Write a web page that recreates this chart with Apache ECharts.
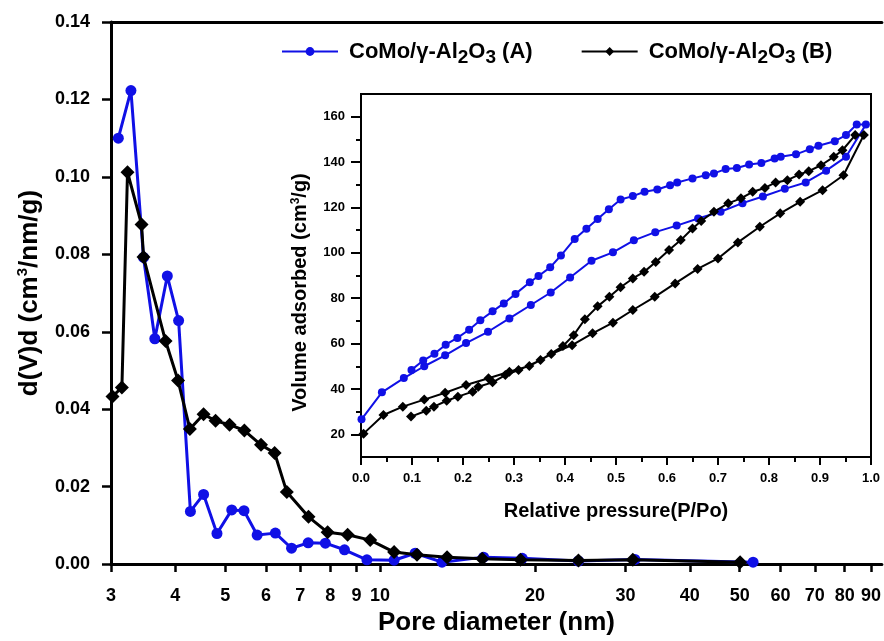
<!DOCTYPE html>
<html><head><meta charset="utf-8">
<script src="https://cdn.jsdelivr.net/npm/echarts@6/dist/echarts.min.js"></script>
<style>html,body{margin:0;padding:0;background:#fff}#c{width:884px;height:641px}</style>
</head><body><div id="c"></div>
<script>
// ---- Main plot: pore size distribution ----
const poreA = [3.10, 3.28, 3.47, 3.65, 3.86, 4.06, 4.28, 4.54, 4.82, 5.15, 5.44, 5.77, 6.26, 6.73, 7.25, 7.83, 8.53, 9.43, 10.65, 11.7, 13.2, 15.9, 18.9, 24.3, 31.3, 53.1];
const dvA   = [0.110, 0.1223, 0.0792, 0.0582, 0.0744, 0.0629, 0.0136, 0.018, 0.0079, 0.014, 0.0138, 0.0075, 0.008, 0.0041, 0.0055, 0.0054, 0.0037, 0.0011, 0.001, 0.0028, 0.0005, 0.0018, 0.0015, 0.0008, 0.0012, 0.0005];
const poreB = [3.02, 3.15, 3.23, 3.44, 3.47, 3.83, 4.05, 4.27, 4.54, 4.79, 5.10, 5.45, 5.87, 6.24, 6.59, 7.26, 7.91, 8.65, 9.57, 10.65, 11.8, 13.5, 15.8, 18.75, 24.3, 31.0, 50.1];
const dvB   = [0.0433, 0.0456, 0.1012, 0.0877, 0.0793, 0.0576, 0.0474, 0.0349, 0.0387, 0.037, 0.036, 0.0345, 0.0308, 0.0287, 0.0186, 0.0122, 0.0082, 0.0076, 0.0062, 0.0031, 0.0024, 0.0018, 0.0014, 0.0011, 0.0009, 0.0011, 0.0005];
const poreTicks = [3, 4, 5, 6, 7, 8, 9, 10, 20, 30, 40, 50, 60, 70, 80, 90];

// ---- Inset: N2 isotherms (adsorption then desorption) ----
const adsAp = [0.001, 0.041, 0.084, 0.124, 0.165, 0.206, 0.249, 0.291, 0.333, 0.372, 0.41, 0.452, 0.494, 0.535, 0.577, 0.619, 0.661, 0.705, 0.748, 0.788, 0.831, 0.872, 0.912, 0.951, 0.99];
const adsAv = [26.6, 38.5, 44.8, 50.0, 54.8, 60.2, 65.2, 71.1, 77.0, 82.5, 89.1, 96.5, 100.2, 105.5, 109.1, 112.0, 115.1, 118.1, 121.9, 124.8, 128.2, 131.0, 136.2, 142.3, 156.6];
const desAp = [0.972, 0.951, 0.929, 0.897, 0.88, 0.853, 0.823, 0.811, 0.785, 0.761, 0.737, 0.715, 0.692, 0.676, 0.65, 0.62, 0.606, 0.581, 0.556, 0.533, 0.509, 0.486, 0.464, 0.442, 0.419, 0.392, 0.371, 0.348, 0.331, 0.303, 0.28, 0.258, 0.234, 0.212, 0.189, 0.166, 0.144, 0.122, 0.099];
const desAv = [156.6, 151.9, 149.2, 147.2, 145.7, 143.4, 142.3, 141.6, 139.6, 138.9, 137.4, 136.9, 135.0, 134.2, 132.8, 131.0, 129.8, 127.9, 126.9, 125.0, 123.5, 119.2, 114.9, 110.6, 106.1, 98.8, 93.6, 89.8, 87.0, 81.9, 77.7, 74.2, 70.3, 66.1, 62.5, 59.5, 55.5, 52.5, 48.4];
const adsBp = [0.005, 0.044, 0.082, 0.124, 0.165, 0.206, 0.25, 0.291, 0.33, 0.373, 0.414, 0.454, 0.494, 0.533, 0.576, 0.616, 0.66, 0.7, 0.739, 0.782, 0.822, 0.861, 0.905, 0.946, 0.986];
const adsBv = [20.3, 28.5, 32.2, 35.3, 38.3, 41.7, 44.7, 47.6, 50.1, 55.4, 59.3, 64.5, 69.2, 74.8, 80.6, 86.5, 92.9, 97.5, 104.6, 111.5, 117.4, 122.5, 127.6, 134.2, 151.9];
const desBp = [0.969, 0.944, 0.927, 0.902, 0.878, 0.859, 0.836, 0.813, 0.792, 0.768, 0.745, 0.72, 0.692, 0.667, 0.65, 0.627, 0.604, 0.578, 0.555, 0.533, 0.509, 0.487, 0.464, 0.439, 0.417, 0.396, 0.352, 0.309, 0.283, 0.258, 0.23, 0.219, 0.19, 0.168, 0.143, 0.128, 0.098];
const desBv = [151.9, 145.2, 142.3, 138.6, 136.0, 134.5, 132.0, 131.0, 128.6, 126.9, 124.0, 121.8, 118.1, 114.0, 110.7, 105.6, 101.2, 96.0, 91.6, 88.7, 84.8, 80.6, 76.4, 70.7, 63.7, 58.9, 52.7, 48.3, 46.1, 42.9, 41.0, 38.8, 36.6, 34.8, 32.2, 30.4, 27.8];
const insetYLabels = [20, 40, 60, 80, 100, 120, 140, 160];
const insetYMinor = [30, 50, 70, 90, 110, 130, 150];

const seriesNames = ['A', 'B'];
const BLUE = '#1010e6', BLACK = '#000000';
const FF = "'Liberation Sans', Arial, sans-serif";

const zip = (xs, ys) => xs.map((x, i) => [x, ys[i]]);

const chart = echarts.init(document.getElementById('c'), null, {renderer: 'canvas'});
const bold = {fontFamily: FF, fontWeight: 'bold', color: '#000'};

chart.setOption({
  animation: false,
  backgroundColor: '#fff',
  textStyle: {fontFamily: FF},
  legend: {
    data: seriesNames,
    left: 276, top: 31,
    itemWidth: 56, itemHeight: 11, itemGap: 48,
    formatter: n => '{a|CoMo/γ-Al}{s|2}{a|O}{s|3}{a| (' + n + ')}',
    textStyle: {
      padding: [0, 0, 0, 6],
      rich: {
        a: {fontFamily: FF, fontWeight: 'bold', fontSize: 22, color: '#000', lineHeight: 24, verticalAlign: 'middle'},
        s: {fontFamily: FF, fontWeight: 'bold', fontSize: 19, color: '#000', lineHeight: 24, padding: [12, 0, 0, 0], verticalAlign: 'middle'}
      }
    }
  },
  grid: [
    {left: 111, top: 22, right: 0, bottom: 74, containLabel: false},
    {left: 361, top: 94, width: 510, height: 363, show: true, borderColor: '#000', borderWidth: 2, backgroundColor: '#fff', z: 1}
  ],
  xAxis: [
    {
      gridIndex: 0, type: 'log', logBase: 10, min: 3, max: 94.5, position: 'bottom',
      axisLine: {lineStyle: {color: '#000', width: 3}},
      axisTick: {customValues: poreTicks, length: 8, lineStyle: {width: 2.5, color: '#000'}},
      axisLabel: {customValues: poreTicks, margin: 23, fontSize: 18, ...bold, formatter: v => String(Math.round(v))},
      splitLine: {show: false}, minorTick: {show: false},
      name: 'Pore diameter (nm)', nameLocation: 'middle', nameGap: 45,
      nameTextStyle: {fontSize: 26, ...bold}
    },
    {
      gridIndex: 0, type: 'value', position: 'top', min: 0, max: 1,
      axisLine: {lineStyle: {color: '#000', width: 3}},
      axisTick: {show: false}, axisLabel: {show: false}, splitLine: {show: false}
    },
    {
      gridIndex: 1, type: 'value', min: 0, max: 1, interval: 0.1, position: 'bottom',
      axisLine: {lineStyle: {color: '#000', width: 2}},
      axisTick: {length: 8, lineStyle: {width: 2, color: '#000'}},
      minorTick: {show: true, splitNumber: 2, length: 5, lineStyle: {width: 2, color: '#000'}},
      axisLabel: {margin: 15, fontSize: 13, ...bold, formatter: v => v.toFixed(1)},
      splitLine: {show: false},
      name: 'Relative pressure(P/Po)', nameLocation: 'middle', nameGap: 44,
      nameTextStyle: {fontSize: 20, ...bold}
    }
  ],
  yAxis: [
    {
      gridIndex: 0, type: 'value', min: 0, max: 0.14, interval: 0.02,
      axisLine: {show: true, lineStyle: {color: '#000', width: 3}},
      axisTick: {show: true, length: 9, lineStyle: {width: 2.5, color: '#000'}},
      axisLabel: {margin: 21, fontSize: 18, ...bold, formatter: v => v.toFixed(2)},
      splitLine: {show: false},
      name: '{n|d(V)d (cm}{p|3}{n|/nm/g)}', nameLocation: 'middle', nameGap: 66,
      nameTextStyle: {
        rich: {
          n: {fontFamily: FF, fontWeight: 'bold', fontSize: 26, color: '#000', lineHeight: 30, verticalAlign: 'middle'},
          p: {fontFamily: FF, fontWeight: 'bold', fontSize: 15, color: '#000', lineHeight: 16, padding: [0, 0, 14, 0], verticalAlign: 'middle'}
        }
      }
    },
    {
      gridIndex: 1, type: 'value', min: 10, max: 170, position: 'left',
      axisLine: {show: true, lineStyle: {color: '#000', width: 2}},
      axisTick: {show: true, customValues: insetYLabels, length: 10, lineStyle: {width: 2, color: '#000'}},
      axisLabel: {customValues: insetYLabels, margin: 16, fontSize: 13, ...bold},
      splitLine: {show: false},
      name: '{n|Volume adsorbed (cm}{p|3}{n|/g)}', nameLocation: 'middle', nameGap: 44,
      nameTextStyle: {
        padding: [0, 34, 0, 0],
        rich: {
          n: {fontFamily: FF, fontWeight: 'bold', fontSize: 20, color: '#000', lineHeight: 24, verticalAlign: 'middle'},
          p: {fontFamily: FF, fontWeight: 'bold', fontSize: 12, color: '#000', lineHeight: 13, padding: [0, 0, 11, 0], verticalAlign: 'middle'}
        }
      }
    },
    {
      gridIndex: 1, type: 'value', min: 10, max: 170, position: 'left',
      axisLine: {show: false, onZero: false},
      axisTick: {show: true, customValues: insetYMinor, length: 5, lineStyle: {width: 2, color: '#000'}},
      axisLabel: {show: false}, splitLine: {show: false}
    }
  ],
  series: [
    {
      name: 'A', type: 'line', xAxisIndex: 0, yAxisIndex: 0, data: zip(poreA, dvA),
      color: BLUE, lineStyle: {width: 3, color: BLUE}, symbol: 'circle', symbolSize: 11,
      itemStyle: {color: BLUE}, z: 3
    },
    {
      name: 'B', type: 'line', xAxisIndex: 0, yAxisIndex: 0, data: zip(poreB, dvB),
      color: BLACK, lineStyle: {width: 3, color: BLACK}, symbol: 'diamond', symbolSize: 14,
      itemStyle: {color: BLACK}, z: 4
    },
    {
      name: 'A', type: 'line', xAxisIndex: 2, yAxisIndex: 1,
      data: zip(adsAp, adsAv).concat(zip(desAp, desAv)),
      color: BLUE, lineStyle: {width: 2, color: BLUE}, symbol: 'circle', symbolSize: 8,
      itemStyle: {color: BLUE}, z: 5
    },
    {
      name: 'B', type: 'line', xAxisIndex: 2, yAxisIndex: 1,
      data: zip(adsBp, adsBv).concat(zip(desBp, desBv)),
      color: BLACK, lineStyle: {width: 2, color: BLACK}, symbol: 'diamond', symbolSize: 10,
      itemStyle: {color: BLACK}, z: 6
    }
  ]
});
</script>
</body></html>
